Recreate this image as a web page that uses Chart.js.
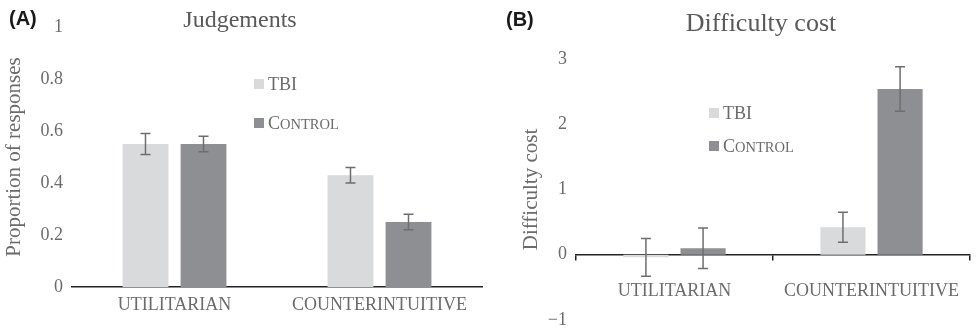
<!DOCTYPE html>
<html>
<head>
<meta charset="utf-8">
<script src="https://cdn.jsdelivr.net/npm/chart.js@4/dist/chart.umd.min.js"></script>
<style>
  html, body { margin: 0; padding: 0; background: #fff; }
  #wrap { position: relative; width: 980px; height: 333px; }
  canvas { position: absolute; top: 0; }
  #chart-a { left: 0; }
  #chart-b { left: 490px; }
</style>
</head>
<body>
<div id="wrap">
  <canvas id="chart-a" width="490" height="333"></canvas>
  <canvas id="chart-b" width="490" height="333"></canvas>
</div>
<script>
const categories = ["UTILITARIAN", "COUNTERINTUITIVE"];
const groups = ["TBI", "Control"];

// (A) Judgements – proportion of responses
const judgeTbi = [0.55, 0.43];
const judgeTbiErr = [0.04, 0.03];
const judgeControl = [0.55, 0.25];
const judgeControlErr = [0.03, 0.03];
const judgeTicks = [0, 0.2, 0.4, 0.6, 0.8, 1];

// (B) Difficulty cost
const costTbi = [-0.04, 0.42];
const costTbiErr = [0.29, 0.23];
const costControl = [0.10, 2.54];
const costControlErr = [0.31, 0.34];
const costTicks = [-1, 0, 1, 2, 3];

const SERIF = "'Liberation Serif', 'Times New Roman', serif";
const barColors = ["#d9dadb", "#8e8f92"];
const textGrey = "#6b6b6b";

const errorBars = {
  id: "errorBars",
  afterDatasetsDraw(chart) {
    const { ctx } = chart;
    const yScale = chart.scales.y;
    ctx.save();
    ctx.strokeStyle = "#6e6e6e";
    ctx.lineWidth = 1.5;
    chart.data.datasets.forEach((ds, d) => {
      const meta = chart.getDatasetMeta(d);
      meta.data.forEach((bar, i) => {
        const v = ds.data[i];
        const e = ds.errors[i];
        const top = yScale.getPixelForValue(v + e);
        const bottom = yScale.getPixelForValue(v - e);
        ctx.beginPath();
        ctx.moveTo(bar.x, top);
        ctx.lineTo(bar.x, bottom);
        ctx.moveTo(bar.x - 5, top);
        ctx.lineTo(bar.x + 5, top);
        ctx.moveTo(bar.x - 5, bottom);
        ctx.lineTo(bar.x + 5, bottom);
        ctx.stroke();
      });
    });
    ctx.restore();
  },
};

// panel letter, title and small-caps legend drawn on the canvas
const decorations = {
  id: "decorations",
  afterDraw(chart, args, opts) {
    const { ctx } = chart;
    ctx.save();
    ctx.textBaseline = "alphabetic";
    ctx.fillStyle = "#1a1a1a";
    ctx.font = "bold 20px 'Liberation Sans', Arial, sans-serif";
    ctx.textAlign = "left";
    ctx.fillText(opts.letter, opts.letterX, opts.letterY);

    ctx.fillStyle = "#595959";
    ctx.font = `${opts.titleSize}px ${SERIF}`;
    ctx.textAlign = "center";
    ctx.fillText(opts.title, opts.titleX, opts.titleY);

    ctx.textAlign = "left";
    chart.data.datasets.forEach((ds, d) => {
      const y = opts.legendY[d];
      ctx.fillStyle = ds.backgroundColor;
      ctx.fillRect(opts.legendX, y - 11, 10, 10);
      ctx.fillStyle = textGrey;
      const label = ds.label;
      let x = opts.legendX + 14;
      ctx.font = `18px ${SERIF}`;
      ctx.fillText(label[0], x, y);
      x += ctx.measureText(label[0]).width;
      const rest = label.slice(1);
      if (rest === rest.toUpperCase()) {
        ctx.fillText(rest, x, y);
      } else {
        ctx.font = `14.5px ${SERIF}`;
        ctx.fillText(rest.toUpperCase(), x, y);
      }
    });
    ctx.restore();
  },
};

function makeChart(id, cfg) {
  return new Chart(document.getElementById(id), {
    type: "bar",
    data: {
      labels: categories,
      datasets: [
        { label: groups[0], data: cfg.tbi, errors: cfg.tbiErr, backgroundColor: barColors[0] },
        { label: groups[1], data: cfg.control, errors: cfg.controlErr, backgroundColor: barColors[1] },
      ],
    },
    options: {
      responsive: false,
      animation: false,
      devicePixelRatio: 1,
      layout: { padding: cfg.padding },
      datasets: { bar: { categoryPercentage: cfg.catPct, barPercentage: 0.79, borderWidth: 0 } },
      plugins: {
        legend: { display: false },
        tooltip: { enabled: false },
        decorations: cfg.deco,
      },
      scales: {
        x: {
          position: cfg.xPosition,
          afterFit: (s) => { s.height = cfg.xHeight; },
          grid: cfg.xGrid,
          border: { display: true, color: "#222", width: 1.5 },
          ticks: { color: textGrey, font: { family: SERIF, size: 18 }, padding: cfg.xPad, maxRotation: 0 },
        },
        y: {
          min: cfg.ticks[0],
          max: cfg.ticks[cfg.ticks.length - 1],
          afterFit: (s) => {
            s.width = cfg.yWidth;
            s.paddingTop = 0;
            s.paddingBottom = 0;
          },
          afterBuildTicks: (s) => { s.ticks = cfg.ticks.map((v) => ({ value: v })); },
          grid: { display: false, drawTicks: false },
          border: { display: false },
          ticks: {
            color: textGrey,
            font: { family: SERIF, size: 18 },
            padding: 9,
            callback: (v) => String(v).replace("-", "\u2212"),
          },
          title: {
            display: true,
            text: cfg.yTitle,
            color: textGrey,
            font: { family: SERIF, size: 21 },
            padding: { top: cfg.yTitlePad, bottom: 0 },
          },
        },
      },
    },
    plugins: [errorBars, decorations],
  });
}

makeChart("chart-a", {
  tbi: judgeTbi, tbiErr: judgeTbiErr, control: judgeControl, controlErr: judgeControlErr,
  ticks: judgeTicks,
  padding: { top: 27, right: 8, bottom: 0, left: 0 },
  catPct: 0.566,
  xPosition: "bottom",
  xHeight: 46,
  xGrid: { display: false, drawTicks: false },
  xPad: 7,
  yWidth: 72,
  yTitle: "Proportion of responses",
  yTitlePad: 2,
  deco: {
    letter: "(A)", letterX: 9, letterY: 25,
    title: "Judgements", titleSize: 24, titleX: 240, titleY: 27,
    legendX: 254, legendY: [90, 129],
  },
});

makeChart("chart-b", {
  tbi: costTbi, tbiErr: costTbiErr, control: costControl, controlErr: costControlErr,
  ticks: costTicks,
  padding: { top: 59, right: 0, bottom: 13, left: 0 },
  catPct: 0.58,
  xPosition: { y: 0 },
  xHeight: 0,
  xGrid: { display: true, drawOnChartArea: false, drawTicks: true, tickLength: 5, offset: true, color: "#222", lineWidth: 1.5 },
  xPad: 21,
  yWidth: 86,
  yTitle: "Difficulty cost",
  yTitlePad: 29,
  deco: {
    letter: "(B)", letterX: 16, letterY: 26,
    title: "Difficulty cost", titleSize: 26, titleX: 271, titleY: 31,
    legendX: 219, legendY: [119, 152],
  },
});
</script>
</body>
</html>
